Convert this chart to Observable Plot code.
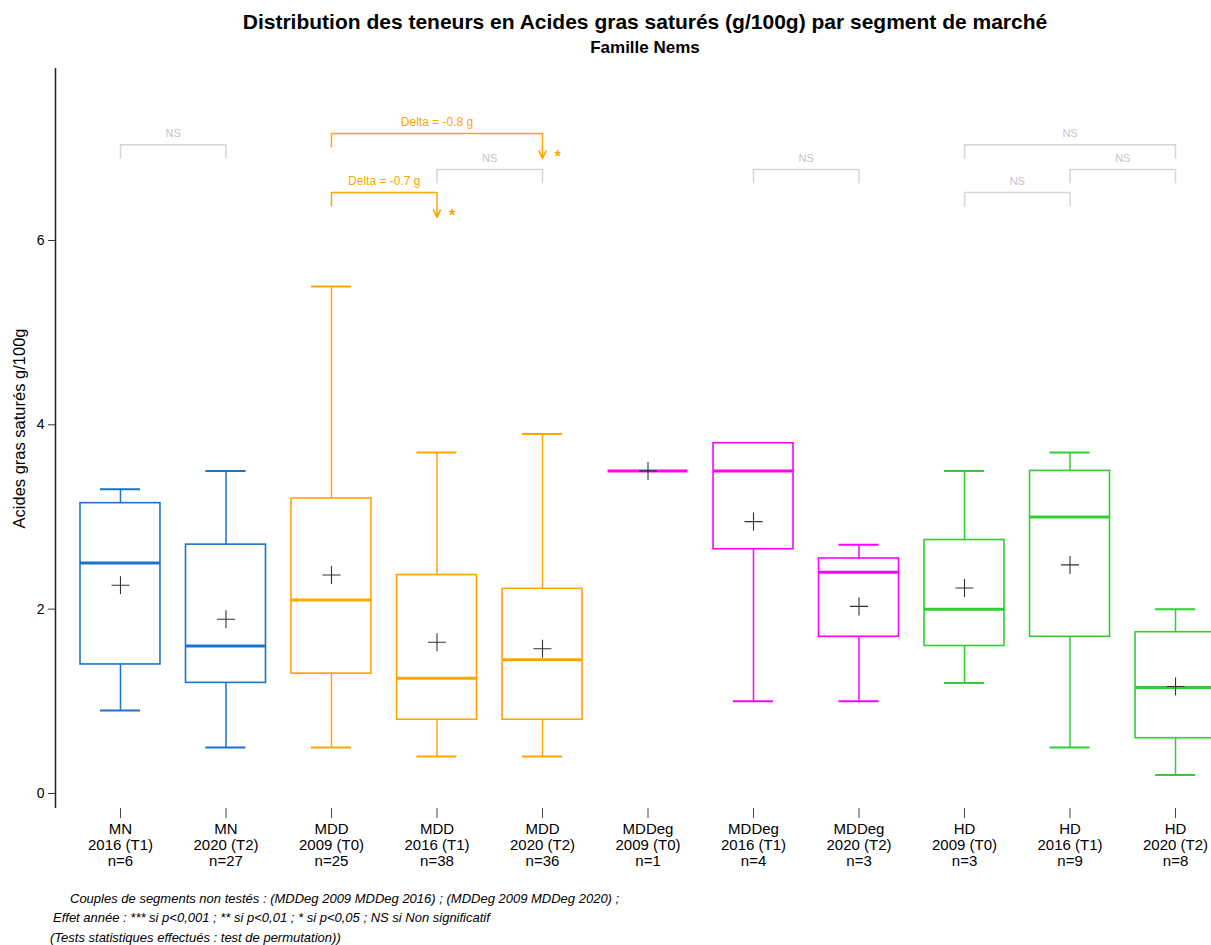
<!DOCTYPE html>
<html><head><meta charset="utf-8">
<script src="https://cdn.jsdelivr.net/npm/d3@7"></script>
<script src="https://cdn.jsdelivr.net/npm/@observablehq/plot@0.6"></script>
<style>
body{margin:0;background:#fff;font-family:"Liberation Sans",Arial,sans-serif;}
#wrap{position:relative;width:1211px;height:945px;overflow:hidden;}
#chart{position:absolute;left:0;top:0;}
.ttl{position:absolute;left:0;width:1290px;text-align:center;font-weight:bold;color:#000;white-space:nowrap;line-height:1;}
#title{top:11px;font-size:21px;}
#subtitle{top:39px;font-size:17px;}
.cap{position:absolute;font-style:italic;font-size:13px;color:#000;white-space:nowrap;line-height:1;}
</style></head>
<body>
<div id="wrap">
<div id="chart"></div>
<div class="ttl" id="title">Distribution des teneurs en Acides gras saturés (g/100g) par segment de marché</div>
<div class="ttl" id="subtitle">Famille Nems</div>
<div class="cap" style="left:70px;top:892px;">Couples de segments non testés : (MDDeg 2009 MDDeg 2016) ; (MDDeg 2009 MDDeg 2020) ;</div>
<div class="cap" style="left:53px;top:911px;">Effet année : *** si p&lt;0,001 ; ** si p&lt;0,01 ; * si p&lt;0,05 ; NS si Non significatif</div>
<div class="cap" style="left:50px;top:931px;">(Tests statistiques effectués : test de permutation))</div>
</div>
<script>
// ---- data ----
const segments = ["MN","MN","MDD","MDD","MDD","MDDeg","MDDeg","MDDeg","HD","HD","HD"];
const years    = ["2016 (T1)","2020 (T2)","2009 (T0)","2016 (T1)","2020 (T2)","2009 (T0)","2016 (T1)","2020 (T2)","2009 (T0)","2016 (T1)","2020 (T2)"];
const counts   = [6,27,25,38,36,1,4,3,3,9,8];
const mins     = [0.9,0.5,0.5,0.4,0.4,3.5,1.0,1.0,1.2,0.5,0.2];
const q1s      = [1.4,1.2,1.3,0.8,0.8,3.5,2.65,1.7,1.6,1.7,0.6];
const medians  = [2.5,1.6,2.1,1.25,1.45,3.5,3.5,2.4,2.0,3.0,1.15];
const q3s      = [3.15,2.7,3.2,2.37,2.22,3.5,3.8,2.55,2.75,3.5,1.75];
const maxs     = [3.3,3.5,5.5,3.7,3.9,3.5,3.8,2.7,3.5,3.7,2.0];
const means    = [2.26,1.89,2.37,1.64,1.57,3.5,2.95,2.03,2.23,2.48,1.16];
const segColors = {MN:"#1874CD", MDD:"#FFA500", MDDeg:"#FF00FF", HD:"#32CD32"};

// comparison brackets
const brFrom  = [0,2,3,2,6,8,9,8];
const brTo    = [1,4,4,3,7,10,10,9];
const brY     = [7.04,7.16,6.77,6.52,6.77,7.04,6.77,6.52];
const brLabel = ["NS","Delta = -0.8 g","NS","Delta = -0.7 g","NS","NS","NS","NS"];
const brSig   = [false,true,false,true,false,false,false,false];
const brStar  = ["","*","","*","","","",""];

// ---- build ----
const boxes = segments.map((s,i)=>({i, seg:s, color:segColors[s], min:mins[i], q1:q1s[i], med:medians[i], q3:q3s[i], max:maxs[i], mean:means[i]}));
const brackets = brFrom.map((f,k)=>({f, t:brTo[k], y:brY[k], label:brLabel[k], sig:brSig[k], star:brStar[k]}));

const xDomain = [-0.616, 10.341];
const yDomain = [-0.163, 7.866];
const bw = 0.379, cw = 0.19;
const leg = 0.155, arr = 0.27;
const gray = "#d6d6d6", orange = "#FFA500";

const cross = {draw(ctx, size){const r=Math.sqrt(size/Math.PI); ctx.moveTo(-r,0); ctx.lineTo(r,0); ctx.moveTo(0,-r); ctx.lineTo(0,r);}};

const plot = Plot.plot({
  width: 1211, height: 945,
  marginTop: 68, marginBottom: 137, marginLeft: 55, marginRight: 0,
  style: {fontFamily: '"Liberation Sans", Arial, sans-serif', color: "#000", background: "transparent"},
  x: {domain: xDomain, label: null},
  y: {domain: yDomain, label: null},
  marks: [
    Plot.axisY({ticks: [0,2,4,6], tickSize: 7, tickPadding: 4, fontSize: 14, label: null, stroke: "#333"}),
    Plot.axisX(d3.range(segments.length), {tickSize: 10, tickPadding: 4, fontSize: 15, lineHeight: 1.08, label: null, stroke: "#444",
      tickFormat: i => `${segments[i]}\n${years[i]}\nn=${counts[i]}`}),
    Plot.ruleX([xDomain[0]], {stroke: "#222", strokeWidth: 1.5}),
    Plot.text(["Acides gras saturés g/100g"], {frameAnchor: "left", textAnchor: "middle", rotate: -90, dx: -36, dy: -10, fontSize: 16.5}),
    // whiskers
    Plot.ruleX(boxes, {x: "i", y1: "q3", y2: "max", stroke: "color", strokeWidth: 1.5}),
    Plot.ruleX(boxes, {x: "i", y1: "min", y2: "q1", stroke: "color", strokeWidth: 1.5}),
    Plot.ruleY(boxes, {y: "max", x1: d => d.i - cw, x2: d => d.i + cw, stroke: "color", strokeWidth: 2}),
    Plot.ruleY(boxes, {y: "min", x1: d => d.i - cw, x2: d => d.i + cw, stroke: "color", strokeWidth: 2}),
    // boxes
    Plot.rect(boxes, {x1: d => d.i - bw, x2: d => d.i + bw, y1: "q1", y2: "q3", fill: "white", stroke: "color", strokeWidth: 1.6}),
    Plot.ruleY(boxes, {y: "med", x1: d => d.i - bw, x2: d => d.i + bw, stroke: "color", strokeWidth: 3}),
    Plot.dot(boxes, {x: "i", y: "mean", symbol: cross, r: 9, stroke: "#333", fill: "none", strokeWidth: 1.1}),
    // brackets
    Plot.ruleY(brackets, {y: "y", x1: "f", x2: "t", stroke: d => d.sig ? orange : gray, strokeWidth: 1.5}),
    Plot.ruleX(brackets, {x: "f", y1: "y", y2: d => d.y - leg, stroke: d => d.sig ? orange : gray, strokeWidth: 1.5}),
    Plot.ruleX(brackets.filter(d => !d.sig), {x: "t", y1: "y", y2: d => d.y - leg, stroke: gray, strokeWidth: 1.5}),
    Plot.arrow(brackets.filter(d => d.sig), {x1: "t", x2: "t", y1: "y", y2: d => d.y - arr, stroke: orange, strokeWidth: 1.5, headLength: 11, headAngle: 50}),
    Plot.text(brackets, {x: d => (d.f + d.t) / 2, y: "y", dy: -11, text: "label", fontSize: d => d.sig ? 12 : 11, fill: d => d.sig ? orange : "#c4c4c4"}),
    Plot.text(brackets.filter(d => d.sig), {x: "t", y: d => d.y - arr, dx: 15, dy: -2, text: "star", fontSize: 16, fontWeight: "bold", fill: orange})
  ]
});
document.getElementById("chart").appendChild(plot);
</script>
</body></html>
